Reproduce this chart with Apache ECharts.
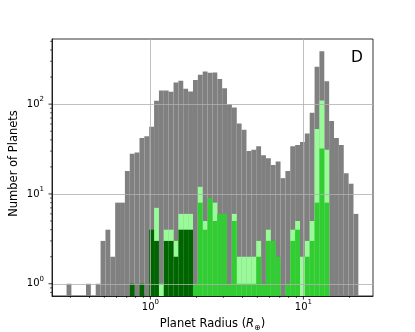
<!DOCTYPE html>
<html>
<head>
<meta charset="utf-8">
<script src="https://cdn.jsdelivr.net/npm/echarts@6/dist/echarts.min.js"></script>
<style>
  html, body { margin: 0; padding: 0; background: #fff; }
  #chart { width: 415px; height: 332px; }
</style>
</head>
<body>
<div id="chart"></div>
<script>
// histogram bins: 60 log-spaced bins between the smallest and largest radius
const rMin = 0.2831
const rMax = 22.86
const nBins = 60

// counts per bin
const allCounts = [1, 0, 0, 0, 1, 0, 1, 3, 4, 2,
  8, 8, 18, 28, 29, 42, 44, 56, 109, 142,
  142, 137, 174, 182, 148, 138, 186, 212, 231, 223,
  225, 190, 150, 100, 92, 61, 52, 30, 31, 34,
  27, 25, 21, 23, 15, 18, 34, 35, 38, 47,
  80, 260, 388, 180, 65, 42, 35, 17, 13, 6]
const paleCounts = [0, 0, 0, 0, 0, 0, 0, 0, 0, 0,
  0, 0, 0, 0, 0, 0, 0, 0, 7, 1,
  4, 4, 3, 6, 6, 6, 0, 12, 5, 0,
  8, 0, 0, 0, 6, 2, 2, 2, 2, 3,
  0, 4, 0, 0, 0, 0, 4, 5, 2, 3,
  5, 53, 110, 31, 0, 0, 0, 0, 0, 0]
const limeCounts = [0, 0, 0, 0, 0, 0, 0, 0, 0, 0,
  0, 0, 0, 0, 0, 0, 0, 0, 0, 0,
  0, 0, 0, 0, 0, 0, 1, 8, 4, 9,
  5, 6, 6, 1, 5, 1, 1, 1, 1, 2,
  1, 3, 3, 2, 0, 1, 3, 4, 0, 2,
  3, 8, 32, 8, 0, 0, 0, 0, 0, 0]
const darkCounts = [0, 0, 0, 0, 0, 0, 0, 0, 0, 0,
  0, 0, 0, 1, 0, 1, 0, 4, 3, 0,
  3, 3, 2, 4, 4, 4, 0, 0, 0, 0,
  0, 0, 0, 0, 0, 0, 0, 0, 0, 0,
  0, 0, 0, 0, 0, 0, 0, 0, 0, 0,
  0, 0, 0, 0, 0, 0, 0, 0, 0, 0]

// tick positions
const xMajorTicks = [1, 10]
const xMinorTicks = [0.3, 0.4, 0.5, 0.6, 0.7, 0.8, 0.9, 2, 3, 4, 5, 6, 7, 8, 9, 20]
const yMajorTicks = [1, 10, 100]
const yMinorTicks = [0.8, 0.9, 2, 3, 4, 5, 6, 7, 8, 9, 20, 30, 40, 50, 60, 70, 80, 90, 200, 300, 400, 500]

const xMin = 0.2275, xMax = 28.5
const yMin = 0.731, yMax = 531

const FONT = 'DejaVu Sans'

const lo = Math.log10(rMin), hi = Math.log10(rMax)
const edges = []
for (let i = 0; i <= nBins; i++) edges.push(Math.pow(10, lo + (hi - lo) * i / nBins))

function histSeries(counts, color, z) {
  const data = []
  counts.forEach((c, i) => { if (c > 0) data.push([edges[i], edges[i + 1], c]) })
  return {
    type: 'custom',
    z: z,
    silent: true,
    clip: true,
    encode: { x: [0, 1], y: 2 },
    data: data,
    renderItem: (params, api) => {
      const p0 = api.coord([api.value(0), api.value(2)])
      const p1 = api.coord([api.value(1), yMin])
      return {
        type: 'rect',
        shape: { x: p0[0], y: p0[1], width: p1[0] - p0[0], height: p1[1] - p0[1] },
        style: { fill: color },
      }
    },
  }
}

function tickSeries(values, isX, len, width) {
  return {
    type: 'custom',
    z: 10,
    silent: true,
    clip: false,
    encode: isX ? { x: 0, y: 1 } : { x: 1, y: 0 },
    data: values.map(v => [v, isX ? yMin : xMin]),
    renderItem: (params, api) => {
      const p = isX ? api.coord([api.value(0), yMin]) : api.coord([xMin, api.value(0)])
      return {
        type: 'line',
        shape: isX ? { x1: p[0], y1: p[1], x2: p[0], y2: p[1] + len }
                   : { x1: p[0] - len, y1: p[1], x2: p[0], y2: p[1] },
        style: { stroke: '#000', lineWidth: width },
      }
    },
  }
}

function powLabel(v) {
  const e = Math.round(Math.log10(v))
  if (Math.abs(Math.log10(v) - e) > 1e-6) return ''
  return '{b|10}{s|' + e + '}'
}

const labelRich = {
  b: { fontFamily: FONT, fontSize: 10, color: '#000', lineHeight: 16 },
  s: { fontFamily: FONT, fontSize: 7, color: '#000', lineHeight: 7, verticalAlign: 'top' },
}

const myChart = echarts.init(document.getElementById('chart'), null, { renderer: 'canvas' })

const option = {
  animation: false,
  backgroundColor: '#fff',
  title: {
    text: 'D',
    right: 47,
    top: 45,
    textStyle: { fontFamily: FONT, fontSize: 15.5, fontWeight: 'normal', color: '#000' },
  },
  grid: {
    left: 52, right: 42, top: 39, bottom: 36,
    outerBoundsMode: 'none',
    containLabel: false,
    show: true, borderColor: '#000', borderWidth: 0.8, backgroundColor: '#fff',
  },
  xAxis: {
    type: 'log',
    logBase: 10,
    min: xMin,
    max: xMax,
    z: 5,
    name: '{n|Planet Radius (}{i|R}{sub|⊕}{n|)}',
    nameLocation: 'middle',
    nameGap: 20,
    nameMoveOverlap: false,
    nameTextStyle: {
      rich: {
        n: { fontFamily: FONT, fontSize: 11.5, color: '#000', lineHeight: 16 },
        i: { fontFamily: FONT, fontSize: 11.5, fontStyle: 'italic', color: '#000', lineHeight: 16 },
        sub: { fontFamily: FONT, fontSize: 8, color: '#000', lineHeight: 9, verticalAlign: 'bottom' },
      },
    },
    axisLine: { show: true, lineStyle: { color: '#000', width: 0.8 } },
    axisTick: { show: false },
    axisLabel: {
      margin: 3,
      showMinLabel: false,
      showMaxLabel: false,
      formatter: powLabel,
      rich: labelRich,
    },
    splitLine: { show: true, showMinLine: false, showMaxLine: false, lineStyle: { color: '#b0b0b0', width: 0.8 } },
  },
  yAxis: {
    type: 'log',
    logBase: 10,
    min: yMin,
    max: yMax,
    z: 5,
    name: 'Number of Planets',
    nameLocation: 'middle',
    nameRotate: 90,
    nameGap: 32,
    nameMoveOverlap: false,
    nameTextStyle: { fontFamily: FONT, fontSize: 11.5, color: '#000', padding: [0, 0, 0, 8] },
    axisLine: { show: true, lineStyle: { color: '#000', width: 0.8 } },
    axisTick: { show: false },
    axisLabel: {
      margin: 8,
      showMinLabel: false,
      showMaxLabel: false,
      formatter: powLabel,
      rich: labelRich,
    },
    splitLine: { show: true, showMinLine: false, showMaxLine: false, lineStyle: { color: '#b0b0b0', width: 0.8 } },
  },
  series: [
    histSeries(allCounts, '#808080', 1),
    histSeries(paleCounts, '#98fb98', 2),
    histSeries(limeCounts, '#32cd32', 3),
    histSeries(darkCounts, '#006400', 4),
    tickSeries(xMajorTicks, true, 3.5, 0.8),
    tickSeries(xMinorTicks, true, 2, 0.6),
    tickSeries(yMajorTicks, false, 3.5, 0.8),
    tickSeries(yMinorTicks, false, 2, 0.6),
  ],
}

option && myChart.setOption(option)
</script>
</body>
</html>
